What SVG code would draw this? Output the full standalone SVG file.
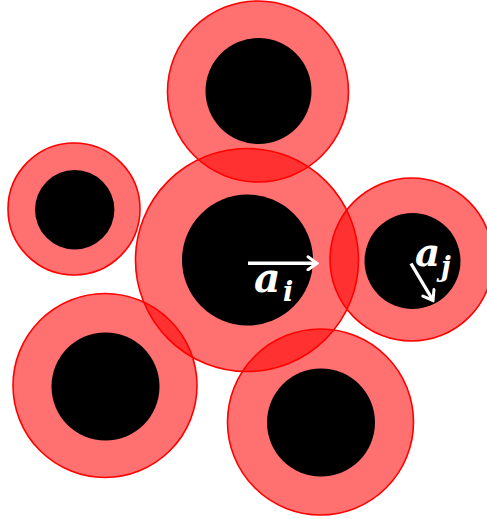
<svg xmlns="http://www.w3.org/2000/svg" width="487" height="519" viewBox="0 0 487 519">
<style>
.shell{fill:#ff0000;fill-opacity:0.56;stroke:#ff0000;stroke-width:1.6}
.core{fill:#000}
.vec{stroke:#fff;stroke-width:3.4;fill:none;stroke-linecap:butt}
.lbl{font-family:"DejaVu Serif","Liberation Serif",serif;font-style:italic;font-weight:bold;fill:#fff}
</style>
<defs>
<marker id="head" viewBox="0 0 14 16" refX="12" refY="8" markerWidth="14" markerHeight="16" markerUnits="userSpaceOnUse" orient="auto">
<path d="M3,1.5 L12,8 L3,14.5" fill="none" stroke="#fff" stroke-width="3" stroke-linecap="round" stroke-linejoin="miter"/>
</marker>
</defs>
<g id="shells">
<circle class="shell" cx="258" cy="91.5" r="90.5"/>
<circle class="shell" cx="74" cy="209" r="66"/>
<circle class="shell" cx="247" cy="260" r="111.5"/>
<circle class="shell" cx="411.5" cy="259.5" r="81.5"/>
<circle class="shell" cx="105" cy="385.5" r="92"/>
<circle class="shell" cx="320.5" cy="422" r="93"/>
</g>
<g id="p-top"><circle class="core" cx="258.5" cy="91" r="53"/></g>
<g id="p-left"><circle class="core" cx="74.7" cy="209.7" r="39.7"/></g>
<g id="p-center"><circle class="core" cx="247.5" cy="260" r="65.5"/></g>
<g id="p-right"><circle class="core" cx="412.5" cy="261" r="48"/></g>
<g id="p-bottomleft"><circle class="core" cx="105.5" cy="386.5" r="54"/></g>
<g id="p-bottomright"><circle class="core" cx="321" cy="422.5" r="54"/></g>
<g id="connectors">
<line class="vec" x1="248" y1="263.3" x2="317" y2="263.3" marker-end="url(#head)"/>
<line class="vec" x1="411" y1="263.5" x2="433" y2="300.5" marker-end="url(#head)"/>
</g>
<g id="labels">
<text class="lbl" x="254" y="292" font-size="41">a</text>
<text class="lbl" x="283" y="301" font-size="27">i</text>
<text class="lbl" x="415" y="266" font-size="39">a</text>
<text class="lbl" x="441" y="276" font-size="27">j</text>
</g>
</svg>
